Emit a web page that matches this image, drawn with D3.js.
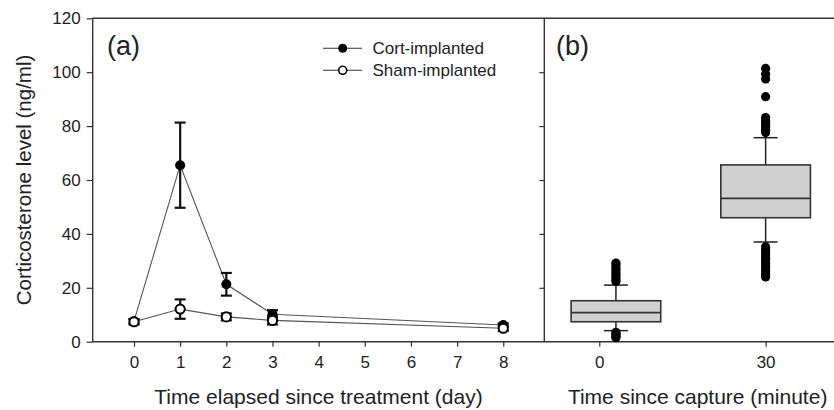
<!DOCTYPE html>
<html><head><meta charset="utf-8">
<script src="https://cdn.jsdelivr.net/npm/d3@7"></script>
<style>body{margin:0;background:#fff}svg{display:block;font-family:Arial,"Liberation Sans",sans-serif}</style>
</head><body><svg id="c" width="834" height="410"></svg>
<script>
// ---- data ----
const days = [0, 1, 2, 3, 8];
const cortMean = [7.6, 65.5, 21.3, 10.2, 6.2];
const cortErr = [0.8, 15.8, 4.2, 1.5, 0.6];
const shamMean = [7.4, 12.1, 9.2, 7.9, 5.0];
const shamErr = [1.0, 3.6, 1.3, 1.5, 1.0];
const dayTicks = [0, 1, 2, 3, 4, 5, 6, 7, 8];
const yTicks = [0, 20, 40, 60, 80, 100, 120];
const seriesNames = ["Cort-implanted", "Sham-implanted"];

const captureTicks = [0, 30];
const boxPos = [3, 30];
const boxQ1 = [7.4, 46.0];
const boxMedian = [10.8, 53.2];
const boxQ3 = [15.2, 65.6];
const whiskerLow = [4.1, 37.0];
const whiskerHigh = [21.0, 75.7];
const outliers0 = [1.5, 2.0, 2.5, 3.0, 3.5, 22.3, 23.2, 24.1, 25.0, 25.9, 26.8, 27.7, 28.6, 29.2];
const outliers30 = [24.0, 25.0, 26.0, 27.0, 28.0, 29.0, 30.0, 31.0, 32.0, 33.0, 34.0, 35.2,
                    77.6, 78.5, 79.4, 80.3, 81.2, 82.1, 83.2, 90.9, 97.5, 99.3, 101.4];
const outliers = [outliers0, outliers30];

// ---- layout ----
const svg = d3.select("#c");
const yTop = 18.3, yBot = 341.7;
const axL = 92.7, div = 544.3, axR = 851;
const y = d3.scaleLinear().domain([0, 120]).range([yBot, yTop]);
const xa = d3.scaleLinear().domain([-0.895, 8.889]).range([axL, div]);
const xb = d3.scaleLinear().domain([-9.92, 45.4]).range([div, axR]);
const axisCol = "#333", txtCol = "#222";

// frame
const frame = svg.append("g").attr("stroke", axisCol).attr("stroke-width", 1.4).attr("fill", "none");
frame.append("line").attr("x1", axL).attr("x2", axR).attr("y1", yTop).attr("y2", yTop);
frame.append("line").attr("x1", axL).attr("x2", axR).attr("y1", yBot).attr("y2", yBot);
frame.append("line").attr("x1", axL).attr("x2", axL).attr("y1", yTop).attr("y2", yBot);
frame.append("line").attr("x1", div).attr("x2", div).attr("y1", yTop).attr("y2", yBot);

function styleAxis(g) {
  g.select(".domain").remove();
  g.selectAll(".tick line").attr("stroke", axisCol).attr("stroke-width", 1.2);
  g.selectAll(".tick text").attr("fill", txtCol).style("font-size", "17px").style("font-family", "Arial, 'Liberation Sans', sans-serif");
}
// left y axis
svg.append("g").attr("transform", `translate(${axL},0)`)
  .call(d3.axisLeft(y).tickValues(yTicks).tickSize(6).tickPadding(6)).call(styleAxis);
// divider ticks (no labels)
svg.append("g").attr("transform", `translate(${div},0)`)
  .call(d3.axisLeft(y).tickValues(yTicks.slice(1, -1)).tickSize(5).tickFormat("")).call(styleAxis);
// x axis a
svg.append("g").attr("transform", `translate(0,${yBot})`)
  .call(d3.axisBottom(xa).tickValues(dayTicks).tickSize(5).tickPadding(9).tickFormat(d3.format("d"))).call(styleAxis);
// x axis b
svg.append("g").attr("transform", `translate(0,${yBot})`)
  .call(d3.axisBottom(xb).tickValues(captureTicks).tickSize(5).tickPadding(9).tickFormat(d3.format("d"))).call(styleAxis);

// titles
svg.append("text").attr("x", (axL + div) / 2).attr("y", 404).attr("text-anchor", "middle")
  .attr("fill", txtCol).style("font-size", "21px").text("Time elapsed since treatment (day)");
svg.append("text").attr("x", (div + axR) / 2).attr("y", 404).attr("text-anchor", "middle")
  .attr("fill", txtCol).style("font-size", "21px").text("Time since capture (minute)");
svg.append("text").attr("transform", `translate(31,${(yTop + yBot) / 2}) rotate(-90)`).attr("text-anchor", "middle")
  .attr("fill", txtCol).style("font-size", "20.5px").text("Corticosterone level (ng/ml)");
svg.append("text").attr("x", 107).attr("y", 55).attr("fill", txtCol).style("font-size", "27px").text("(a)");
svg.append("text").attr("x", 556).attr("y", 55).attr("fill", txtCol).style("font-size", "27px").text("(b)");

// ---- panel a ----
const line = d3.line().x((d, i) => xa(days[i])).y(d => y(d));
const gA = svg.append("g");
[cortMean, shamMean].forEach(s => {
  gA.append("path").attr("d", line(s)).attr("fill", "none").attr("stroke", "#555").attr("stroke-width", 1.1);
});
function errBars(mean, err) {
  const g = gA.append("g").attr("stroke", "#111").attr("stroke-width", 2.2);
  days.forEach((d, i) => {
    const xp = xa(d), lo = y(mean[i] - err[i]), hi = y(mean[i] + err[i]);
    g.append("line").attr("x1", xp).attr("x2", xp).attr("y1", lo).attr("y2", hi);
    g.append("line").attr("x1", xp - 5.5).attr("x2", xp + 5.5).attr("y1", lo).attr("y2", lo);
    g.append("line").attr("x1", xp - 5.5).attr("x2", xp + 5.5).attr("y1", hi).attr("y2", hi);
  });
}
errBars(cortMean, cortErr);
errBars(shamMean, shamErr);
gA.selectAll(".cort").data(cortMean).join("circle").attr("class", "cort")
  .attr("cx", (d, i) => xa(days[i])).attr("cy", d => y(d)).attr("r", 5).attr("fill", "#000");
gA.selectAll(".sham").data(shamMean).join("circle").attr("class", "sham")
  .attr("cx", (d, i) => xa(days[i])).attr("cy", d => y(d)).attr("r", 4.6)
  .attr("fill", "#fff").attr("stroke", "#000").attr("stroke-width", 2);

// legend
const leg = svg.append("g");
seriesNames.forEach((name, i) => {
  const yy = 48.3 + i * 22;
  leg.append("line").attr("x1", 323).attr("x2", 362).attr("y1", yy).attr("y2", yy).attr("stroke", "#333").attr("stroke-width", 1.1);
  leg.append("circle").attr("cx", 342.7).attr("cy", yy).attr("r", i === 0 ? 4.5 : 4)
    .attr("fill", i === 0 ? "#000" : "#fff").attr("stroke", "#000").attr("stroke-width", i === 0 ? 0 : 1.6);
  leg.append("text").attr("x", 372.5).attr("y", yy + 6).attr("fill", txtCol).style("font-size", "17px").text(name);
});

// ---- panel b ----
const gB = svg.append("g");
const halfW = 44.8, capW = 12;
boxPos.forEach((p, i) => {
  const cx = xb(p);
  gB.append("line").attr("x1", cx).attr("x2", cx).attr("y1", y(whiskerLow[i])).attr("y2", y(whiskerHigh[i]))
    .attr("stroke", "#222").attr("stroke-width", 1.5);
  [whiskerLow[i], whiskerHigh[i]].forEach(w => {
    gB.append("line").attr("x1", cx - capW).attr("x2", cx + capW).attr("y1", y(w)).attr("y2", y(w))
      .attr("stroke", "#222").attr("stroke-width", 1.5);
  });
  gB.append("rect").attr("x", cx - halfW).attr("width", 2 * halfW)
    .attr("y", y(boxQ3[i])).attr("height", y(boxQ1[i]) - y(boxQ3[i]))
    .attr("fill", "#d0d0d0").attr("stroke", "#333").attr("stroke-width", 1.6);
  gB.append("line").attr("x1", cx - halfW).attr("x2", cx + halfW).attr("y1", y(boxMedian[i])).attr("y2", y(boxMedian[i]))
    .attr("stroke", "#333").attr("stroke-width", 1.6);
  gB.selectAll(null).data(outliers[i]).join("circle")
    .attr("cx", cx).attr("cy", d => y(d)).attr("r", 4.6).attr("fill", "#000");
});
</script></body></html>
